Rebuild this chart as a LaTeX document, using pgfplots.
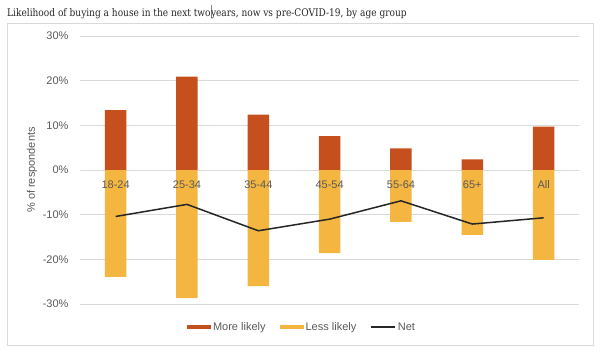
\documentclass[border=0pt]{standalone}
\usepackage{pgfplots}
\pgfplotsset{compat=1.18}
\usepackage{fontspec}
\setmainfont{Liberation Sans}
\newfontfamily\titlefont{DejaVu Serif}
\definecolor{morec}{HTML}{C5501E}
\definecolor{lessc}{HTML}{F4B640}
\definecolor{netc}{HTML}{262626}
\definecolor{gridc}{HTML}{D9D9D9}
\definecolor{txtc}{HTML}{595959}
\definecolor{framec}{HTML}{D9D9D9}
\tikzset{catlabel/.style={anchor=base, yshift=-18bp, inner sep=0pt, font=\fontsize{11bp}{13bp}\selectfont, text=txtc}}
\begin{document}
\begin{tikzpicture}
\path (0bp,0bp) rectangle (600bp,-353bp);
\draw[framec, line width=0.8bp] (7bp,-23bp) rectangle (593bp,-345bp);
\node[anchor=west, inner sep=0pt, text=black!85] at (7bp,-11.5bp) {\scalebox{0.86}[1]{\titlefont\fontsize{10.5bp}{12bp}\selectfont Likelihood of buying a house in the next two{\color{gray}\rule[-0.3ex]{0.4bp}{2.4ex}}years, now vs pre-COVID-19, by age group}};
\begin{axis}[
  at={(80bp,-304bp)}, anchor=south west,
  scale only axis, width=499.3bp, height=268bp,
  xmin=-0.5, xmax=6.5, ymin=-30, ymax=30,
  axis line style={draw=none},
  major tick length=0pt,
  ymajorgrids, grid style={gridc, line width=0.8bp},
  ytick={-30,-20,-10,0,10,20,30},
  yticklabels={-30\%,-20\%,-10\%,0\%,10\%,20\%,30\%},
  xtick=\empty,
  tick label style={font=\fontsize{11bp}{13bp}\selectfont, text=txtc},
  yticklabel style={xshift=-8bp},
  ylabel={\% of respondents},
  ylabel style={at={(axis description cs:-0.0961,0.5)}, anchor=center, font=\fontsize{11bp}{13bp}\selectfont, text=txtc},
  legend style={at={(0.4446,-0.086)}, anchor=center, draw=none, fill=none, font=\fontsize{11bp}{13bp}\selectfont, text=txtc, inner sep=0pt,
    /tikz/every even column/.append style={column sep=12bp}},
  legend columns=3,
  legend cell align=left,
]
\addplot[ybar, bar shift=0pt, bar width=21.5bp, fill=morec, draw=none,
  legend image code/.code={\fill[morec] (0bp,-2bp) rectangle (24bp,2bp);}]
  coordinates {(0,13.4) (1,20.9) (2,12.4) (3,7.6) (4,4.85) (5,2.4) (6,9.7)};
\addlegendentry{More likely}
\addplot[ybar, bar shift=0pt, bar width=21.5bp, fill=lessc, draw=none,
  legend image code/.code={\fill[lessc] (0bp,-2bp) rectangle (24bp,2bp);}]
  coordinates {(0,-23.9) (1,-28.7) (2,-26.0) (3,-18.6) (4,-11.6) (5,-14.5) (6,-20.1)};
\addlegendentry{Less likely}
\addplot[sharp plot, netc, line width=1.5bp, mark=none,
  legend image code/.code={\draw[netc, line width=1.5bp] (0bp,0bp) -- (24bp,0bp);}]
  coordinates {(0,-10.4) (1,-7.7) (2,-13.6) (3,-11.0) (4,-6.9) (5,-12.1) (6,-10.7)};
\addlegendentry{Net}
\node[catlabel] at (axis cs:0,0) {18-24};
\node[catlabel] at (axis cs:1,0) {25-34};
\node[catlabel] at (axis cs:2,0) {35-44};
\node[catlabel] at (axis cs:3,0) {45-54};
\node[catlabel] at (axis cs:4,0) {55-64};
\node[catlabel] at (axis cs:5,0) {65+};
\node[catlabel] at (axis cs:6,0) {All};
\end{axis}
\end{tikzpicture}
\end{document}
